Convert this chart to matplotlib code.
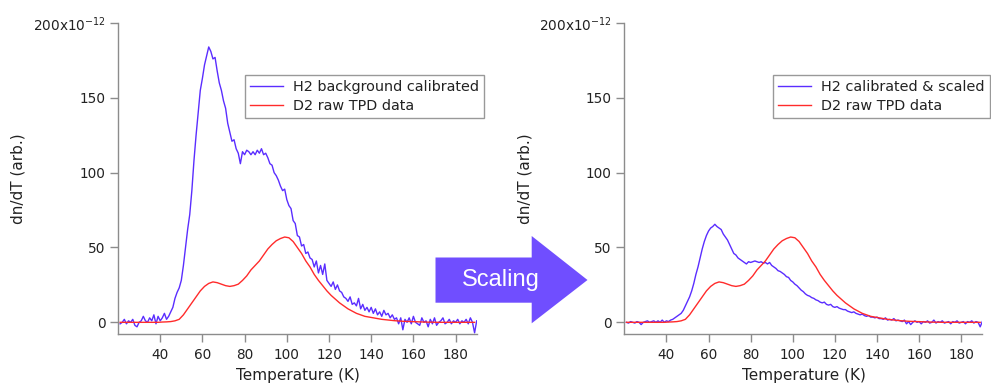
import matplotlib
matplotlib.use("Agg")
import matplotlib.pyplot as plt
from matplotlib.patches import Polygon
import numpy as np

# ---------------- data ----------------
T_blue = list(range(21, 191))  # K, 1 K steps

h2_background = [
    -1, 0, 2, -1, 1, 0, 2, -2, -3, 0,            # 21-30
    1, 4, 1, 0, 3, 1, 5, -1, 4, 1,               # 31-40
    3, 6, 2, 4, 7, 10, 16, 20, 23, 28,           # 41-50
    38, 50, 62, 72, 88, 108, 125, 140, 155, 163, # 51-60
    172, 178, 184, 181, 176, 177, 168, 160, 155, 148,  # 61-70
    143, 133, 127, 121, 122, 116, 113, 106, 114, 112,  # 71-80
    115, 114, 112, 114, 112, 115, 113, 116, 112, 113,  # 81-90
    110, 106, 105, 100, 98, 95, 91, 88, 89, 82,        # 91-100
    78, 76, 68, 66, 58, 57, 51, 52, 46, 47,            # 101-110
    43, 42, 37, 41, 33, 38, 32, 39, 28, 26,            # 111-120
    24, 27, 22, 25, 21, 20, 17, 16, 14, 17,            # 121-130
    12, 13, 11, 16, 9, 12, 8, 10, 7, 10,               # 131-140
    6, 9, 5, 7, 4, 8, 5, 6, 3, 5,                      # 141-150
    2, 3, -1, 3, -5, 2, 0, 3, -1, 4,                   # 151-160
    0, -1, -2, 3, 0, 1, -3, 2, -1, 3,                  # 161-170
    -2, 0, 1, 3, -1, 0, 2, -1, 1, 0,                   # 171-180
    2, -1, 1, 0, 2, -1, 3, 0, -7, 1,                   # 181-190
]

h2_scaled = [
    0, -0.5, 0.5, 0, -0.5, 0.5, 0, -1.5, 0, 0.5,       # 21-30
    1, 0, 0.5, 1, 0, 1, 0, 1.5, 0, 1,                  # 31-40
    0.5, 1.5, 2, 3, 4, 5, 6, 8, 11, 14,                # 41-50
    17, 21, 26, 32, 37, 43, 49, 54, 58, 61,            # 51-60
    63, 64, 65.5, 64, 63, 62, 59, 57, 55, 52,          # 61-70
    49, 46, 45, 43, 42, 41, 40, 39, 40.5, 40,          # 71-80
    40.5, 41, 40.5, 40, 40.5, 39.5, 40, 39, 40, 38,    # 81-90
    37, 36, 34.5, 34, 33, 32, 30.5, 30, 28, 27,        # 91-100
    25.5, 24.5, 23, 21.5, 20.5, 19, 18, 17.5, 16.5, 16,  # 101-110
    15, 14.5, 13.5, 13, 13.5, 12, 11.5, 12, 10.5, 10,  # 111-120
    10.5, 9.5, 9, 8.5, 8.5, 7.5, 7, 6.5, 7, 6,         # 121-130
    5.5, 5, 5.5, 4.5, 4, 4.5, 3.5, 3.5, 3, 3.5,        # 131-140
    2.5, 2.5, 2, 3, 1.5, 2, 1.5, 2.5, 1, 1.5,          # 141-150
    1, 0.5, 1.5, -1, 0.5, -1.5, 0, 1, 0, 0.5,          # 151-160
    -1, 0.5, 0, 1, -0.5, 0, 1.5, -0.5, 0.5, 0,         # 161-170
    1, -0.5, 0, 0.5, -1, 0.5, 0, 1, -0.5, 0,           # 171-180
    0.5, -1, 0.5, 0, 1, -0.5, 0.5, 0, -3, 0.5,         # 181-190
]

T_red = list(range(21, 191, 2))  # K, 2 K steps
d2_raw = [
    0, 0, 0, 0, 0, 0, 0, 0, 0, 0,                      # 21-39
    0.2, 0.3, 0.5, 1, 2, 5, 9, 13, 17, 21,             # 41-59
    24, 26, 27, 26.5, 25.5, 24.5, 24, 24.5, 25.5, 28,  # 61-79
    31, 35, 38, 41, 45, 49, 52, 54.5, 56, 57,          # 81-99
    56.5, 54, 50, 46, 41, 37, 32, 28, 24.5, 21,        # 101-119
    18, 15.5, 13, 11, 9, 7.5, 6, 5, 4, 3.5,            # 121-139
    3, 2.5, 2, 1.7, 1.4, 1.1, 0.9, 0.7, 0.6, 0.5,      # 141-159
    0.4, 0.3, 0.2, 0.1, 0.1, 0, 0, 0, 0, 0,            # 161-179
    0, 0, 0, 0, 0,                                     # 181-189
]

x_ticks = [40, 60, 80, 100, 120, 140, 160, 180]
y_ticks = [0, 50, 100, 150, 200]
y_ticklabels = ["0", "50", "100", "150", "200x10$^{\\mathregular{-12}}$"]

left_labels = ["H2 background calibrated", "D2 raw TPD data"]
right_labels = ["H2 calibrated & scaled", "D2 raw TPD data"]

BLUE = "#5a2dff"
RED = "#ff2b2b"
ARROW = "#704eff"
SPINE = "#8c8c8c"

plt.rcParams["font.family"] = ["DejaVu Sans"]

fig = plt.figure(figsize=(9.91, 3.85), dpi=100)
W, H = 991, 385


def make_ax(left_px, right_px):
    top_px, bottom_px = 23, 334.3
    ax = fig.add_axes([left_px / W, 1 - bottom_px / H,
                       (right_px - left_px) / W, (bottom_px - top_px) / H])
    ax.set_xlim(20, 190)
    ax.set_ylim(-8, 200)
    for s in ["top", "right"]:
        ax.spines[s].set_visible(False)
    for s in ["left", "bottom"]:
        ax.spines[s].set_color(SPINE)
        ax.spines[s].set_linewidth(1.0)
    ax.set_xticks(x_ticks)
    ax.set_yticks(y_ticks)
    ax.set_yticklabels(y_ticklabels)
    ax.tick_params(axis="both", direction="out", length=6, width=1,
                   color=SPINE, labelsize=9.8, labelcolor="#222222", pad=3)
    ax.tick_params(axis="x", pad=4)
    ax.set_xlabel("Temperature (K)", fontsize=11, color="#222222")
    ax.set_ylabel("dn/dT (arb.)", fontsize=11, color="#222222")
    ax.xaxis.set_label_coords(0.502, -0.108)
    ax.yaxis.set_label_coords(-0.257, 0.5)
    return ax


ax1 = make_ax(118, 476.7)
ax1.plot(T_blue, h2_background, color=BLUE, lw=1.0, label=left_labels[0])
ax1.plot(T_red, d2_raw, color=RED, lw=1.0, label=left_labels[1])

ax2 = make_ax(624.3, 982.3)
ax2.plot(T_blue, h2_scaled, color=BLUE, lw=1.0, label=right_labels[0])
ax2.plot(T_red, d2_raw, color=RED, lw=1.0, label=right_labels[1])

for ax in (ax1, ax2):
    leg = ax.legend(loc="upper right", bbox_to_anchor=(1.021, 0.834),
                    borderaxespad=0, fontsize=10.4, fancybox=False,
                    framealpha=1, edgecolor="#999999", handlelength=2.3,
                    handletextpad=0.7, labelspacing=0.35, borderpad=0.35)
    leg.get_frame().set_linewidth(1.0)
    for t in leg.get_texts():
        t.set_color("#222222")

# Scaling arrow (figure pixel coordinates converted to fractions)
arrow_px = [(435.5, 257.5), (531.7, 257.5), (531.7, 236), (587.5, 280),
            (531.7, 323.3), (531.7, 302.7), (435.5, 302.7)]
poly = Polygon([(x / W, 1 - y / H) for x, y in arrow_px], closed=True,
               transform=fig.transFigure, facecolor=ARROW, edgecolor="none")
fig.patches.append(poly)
fig.text(501 / W, 1 - 280 / H, "Scaling", color="white", fontsize=17,
         family=["Liberation Sans"], ha="center", va="center")

fig.savefig("out.png", dpi=100)
